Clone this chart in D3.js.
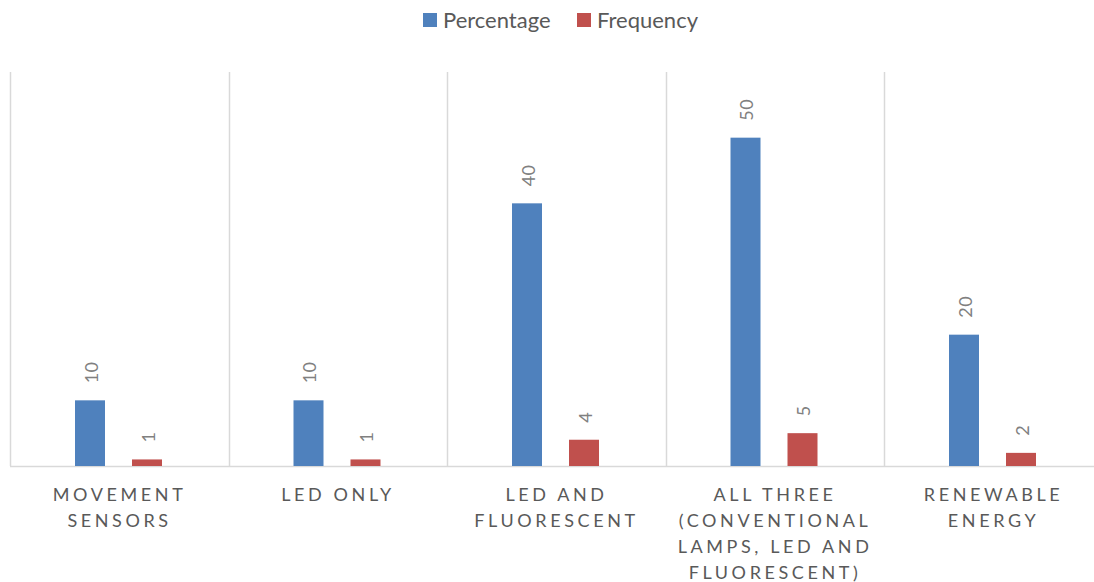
<!DOCTYPE html>
<html>
<head>
<meta charset="utf-8">
<script src="https://cdn.jsdelivr.net/npm/d3@7"></script>
<style>
  html, body { margin: 0; padding: 0; background: #fff; }
  svg { display: block; }
  text { font-family: Lato, "Open Sans", sans-serif; }
</style>
</head>
<body>
<svg id="chart" width="1094" height="582"></svg>
<script>
// Lighting approaches and their reported share / count
const categories = [
  ["MOVEMENT", "SENSORS"],
  ["LED ONLY"],
  ["LED AND", "FLUORESCENT"],
  ["ALL THREE", "(CONVENTIONAL", "LAMPS, LED AND", "FLUORESCENT)"],
  ["RENEWABLE", "ENERGY"]
];
const seriesNames = ["Percentage", "Frequency"];
const percentage = [10, 10, 40, 50, 20];
const frequency = [1, 1, 4, 5, 2];
const colors = ["#4f81bd", "#c0504d"];
const yMax = 60;

(function () {
  const svg = d3.select("#chart");
  const plotLeft = 10, plotRight = 1102.5, plotTop = 72, plotBottom = 466;

  const x = d3.scaleBand().domain(d3.range(categories.length)).range([plotLeft, plotRight]).padding(0);
  const y = d3.scaleLinear().domain([0, yMax]).range([plotBottom, plotTop]);
  const groupHalf = 43.5;
  const xi = d3.scaleBand().domain(seriesNames)
    .range([x.bandwidth() / 2 - groupHalf - 0.75, x.bandwidth() / 2 + groupHalf - 0.75])
    .paddingInner(27 / 57).paddingOuter(0);

  // vertical separators between categories
  svg.append("g").selectAll("line")
    .data(d3.range(categories.length + 1))
    .join("line")
    .attr("x1", i => Math.round(plotLeft + i * x.step()) + 0.5)
    .attr("x2", i => Math.round(plotLeft + i * x.step()) + 0.5)
    .attr("y1", plotTop).attr("y2", plotBottom)
    .attr("stroke", "#d9d9d9").attr("stroke-width", 1.5);

  // baseline
  svg.append("line")
    .attr("x1", plotLeft).attr("x2", plotRight)
    .attr("y1", plotBottom + 0.5).attr("y2", plotBottom + 0.5)
    .attr("stroke", "#d9d9d9").attr("stroke-width", 1.5);

  const rows = categories.map((c, i) => ({ i, values: [percentage[i], frequency[i]] }));

  const groups = svg.append("g").selectAll("g")
    .data(rows).join("g")
    .attr("transform", d => `translate(${x(d.i)},0)`);

  groups.selectAll("rect")
    .data(d => d.values.map((v, k) => ({ v, k })))
    .join("rect")
    .attr("x", d => xi(seriesNames[d.k]))
    .attr("width", xi.bandwidth())
    .attr("y", d => y(d.v))
    .attr("height", d => y(0) - y(d.v))
    .attr("fill", d => colors[d.k]);

  // rotated value labels above each bar
  groups.selectAll("text.val")
    .data(d => d.values.map((v, k) => ({ v, k })))
    .join("text")
    .attr("class", "val")
    .attr("transform", d => `translate(${xi(seriesNames[d.k]) + xi.bandwidth() / 2 + 1.5},${y(d.v) - 17}) rotate(-90)`)
    .attr("dy", "0.35em")
    .attr("text-anchor", "start")
    .attr("fill", "#808080")
    .attr("font-size", 18)
    .attr("letter-spacing", "0.5px")
    .text(d => d.v);

  // category labels (widely tracked capitals)
  const spacing = 3.6;
  const cat = svg.append("g").selectAll("text")
    .data(categories).join("text")
    .attr("text-anchor", "middle")
    .attr("fill", "#595959")
    .attr("font-size", 18)
    .attr("letter-spacing", spacing + "px");
  cat.each(function (lines, i) {
    const t = d3.select(this);
    lines.forEach((ln, j) => {
      t.append("tspan")
        .attr("x", x(i) + x.bandwidth() / 2 + spacing / 2 - 1.5)
        .attr("y", 500.5 + j * 26.2)
        .text(ln);
    });
  });

  // legend
  const legendItems = [
    { name: "Percentage", sx: 423, tx: 443 },
    { name: "Frequency", sx: 577, tx: 597 }
  ];
  const lg = svg.append("g");
  legendItems.forEach((it, k) => {
    lg.append("rect").attr("x", it.sx).attr("y", 13).attr("width", 14).attr("height", 14).attr("fill", colors[k]);
    lg.append("text").attr("x", it.tx).attr("y", 27.5).attr("font-size", 22).attr("fill", "#595959").text(it.name);
  });
})();
</script>
</body>
</html>
